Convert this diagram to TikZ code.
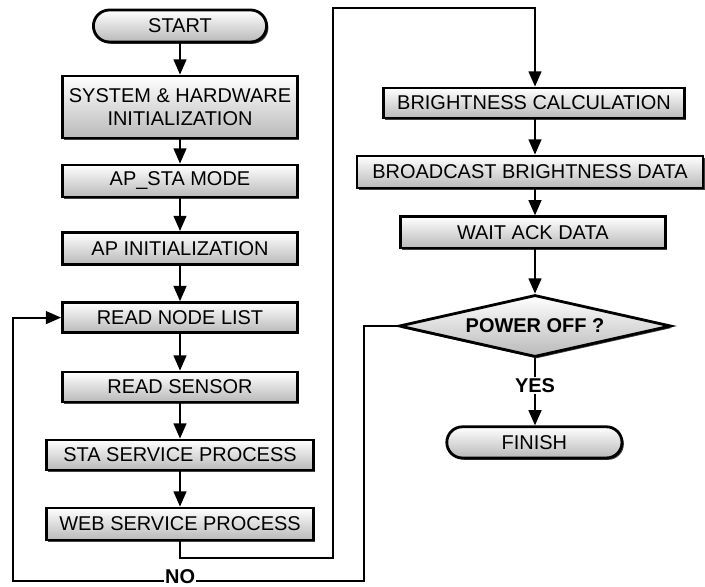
\documentclass[tikz,border=0pt]{standalone}
\usepackage{fontspec}
\setmainfont{Liberation Sans}
\usetikzlibrary{shapes.geometric, shapes.misc, arrows.meta, shadows}
\tikzset{
    box/.style={draw=black, line width=2pt, top color=white, bottom color=gray!55, inner sep=1pt,
        drop shadow={shadow xshift=1.3pt, shadow yshift=-1.3pt, opacity=.75, fill=black},
        font=\fontsize{14.2}{16}\selectfont, align=center},
    proc/.style={box, rectangle, minimum width=5.875cm, minimum height=.8cm},
    term/.style={box, rounded rectangle, minimum width=4.4cm, minimum height=.8cm},
    dec/.style={box, diamond, aspect=4.4, minimum width=6.8cm, minimum height=1.55cm, inner sep=0pt, font=\fontsize{14.2}{16}\selectfont\bfseries},
    arr/.style={line width=1.3pt, -{Triangle[length=.38cm, width=.32cm]}},
    lbl/.style={fill=white, inner sep=1pt, font=\fontsize{14.2}{16}\selectfont\bfseries},
}
\begin{document}
\begin{tikzpicture}
\useasboundingbox (0,0) rectangle (17.625,-14.675);
\node[term] (start) at (4.5,-.65) {START};
\node[proc, minimum height=1.55cm] (sys) at (4.5,-2.675) {SYSTEM \& HARDWARE\\INITIALIZATION};
\node[proc] (apsta) at (4.5,-4.525) {AP\_STA MODE};
\node[proc] (apinit) at (4.5,-6.21) {AP INITIALIZATION};
\node[proc, minimum height=.75cm] (rnode) at (4.5,-7.94) {READ NODE LIST};
\node[proc, minimum height=.75cm] (rsens) at (4.5,-9.675) {READ SENSOR};
\node[proc, minimum width=6.675cm, minimum height=.75cm] (sta) at (4.5,-11.375) {STA SERVICE PROCESS};
\node[proc, minimum width=6.675cm] (web) at (4.5,-13.1) {WEB SERVICE PROCESS};
\node[proc, minimum width=7.525cm, minimum height=.75cm] (bcalc) at (13.35,-2.575) {BRIGHTNESS CALCULATION};
\node[proc, minimum width=8.65cm, minimum height=.8cm] (bcast) at (13.25,-4.3) {BROADCAST BRIGHTNESS DATA};
\node[proc, minimum width=6.625cm, minimum height=.78cm] (wack) at (13.32,-5.81) {WAIT ACK DATA};
\node[dec] (pwr) at (13.375,-8.15) {POWER OFF ?};
\node[term, minimum width=4.45cm, minimum height=.78cm] (fin) at (13.36,-11.06) {FINISH};
\coordinate (w1) at (4.5,-13.95);
\coordinate (w2) at (8.325,-13.95);
\coordinate (w3) at (8.325,-.2);
\coordinate (w4) at (13.375,-.2);
\coordinate (n1) at (9.1,-8.15);
\coordinate (n2) at (9.1,-14.52);
\coordinate (n3) at (.325,-14.52);
\coordinate (n4) at (.325,-7.94);
\draw[arr] (start) -- (sys);
\draw[arr] (sys) -- (apsta);
\draw[arr] (apsta) -- (apinit);
\draw[arr] (apinit) -- (rnode);
\draw[arr] (rnode) -- (rsens);
\draw[arr] (rsens) -- (sta);
\draw[arr] (sta) -- (web);
\draw[arr] (web.south) -- (w1) -- (w2) -- (w3) -- (w4) -- (w4 |- bcalc.north);
\draw[arr] (w4 |- bcalc.south) -- (w4 |- bcast.north);
\draw[arr] (w4 |- bcast.south) -- (w4 |- wack.north);
\draw[arr] (w4 |- wack.south) -- (pwr.north);
\draw[arr] (pwr.south) -- node[lbl, pos=.4] {YES} (pwr.south |- fin.north);
\draw[arr] (pwr.west) -- (n1) -- (n2) -- node[lbl, pos=.524, yshift=3pt, inner sep=.5pt] {NO} (n3) -- (n4) -- (rnode.west);
\end{tikzpicture}
\end{document}
